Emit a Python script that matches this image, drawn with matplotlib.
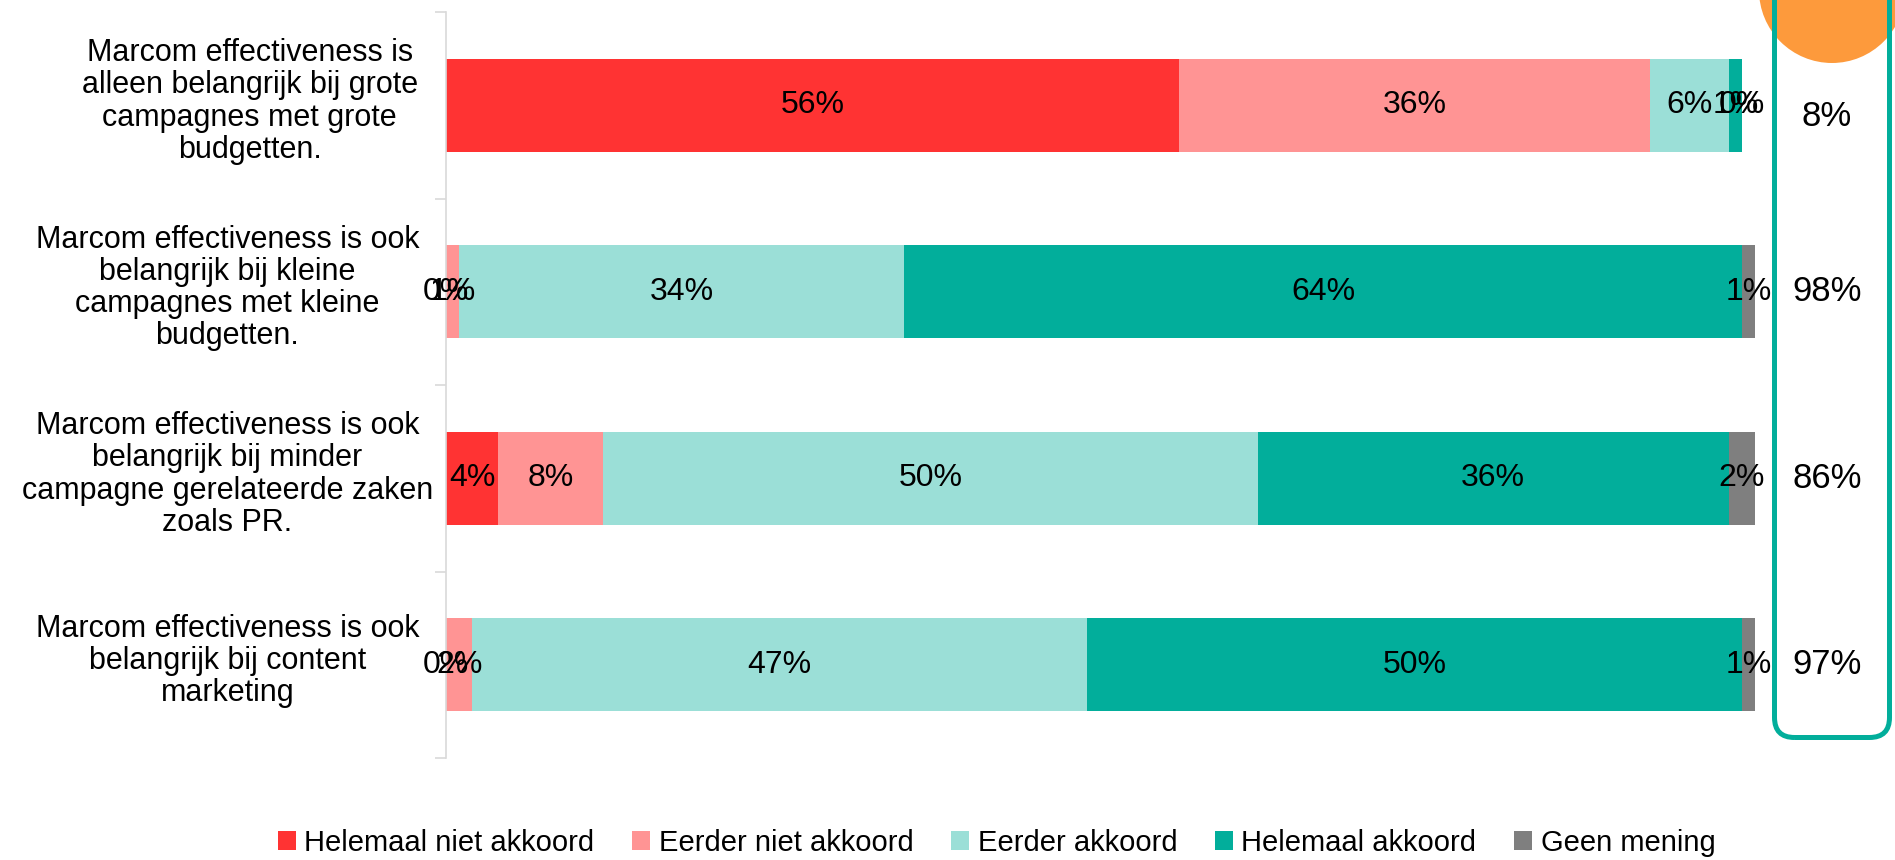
import matplotlib
matplotlib.use("Agg")
import matplotlib.pyplot as plt
from matplotlib.patches import Patch, FancyBboxPatch, Circle
from matplotlib.transforms import blended_transform_factory

plt.rcParams['font.family'] = ['Liberation Sans', 'DejaVu Sans']

statements = [
    "Marcom effectiveness is\nalleen belangrijk bij grote\ncampagnes met grote\nbudgetten.",
    "Marcom effectiveness is ook\nbelangrijk bij kleine\ncampagnes met kleine\nbudgetten.",
    "Marcom effectiveness is ook\nbelangrijk bij minder\ncampagne gerelateerde zaken\nzoals PR.",
    "Marcom effectiveness is ook\nbelangrijk bij content\nmarketing",
]
answers = ["Helemaal niet akkoord", "Eerder niet akkoord", "Eerder akkoord",
           "Helemaal akkoord", "Geen mening"]
helemaal_niet = [56, 0, 4, 0]
eerder_niet = [36, 1, 8, 2]
eerder = [6, 34, 50, 47]
helemaal = [1, 64, 36, 50]
geen_mening = [0, 1, 2, 1]
agree_total = ["8%", "98%", "86%", "97%"]

colors = ['#ff3333', '#ff9494', '#9bdfd7', '#02ae9b', '#7f7f7f']
series = [helemaal_niet, eerder_niet, eerder, helemaal, geen_mening]

fig = plt.figure(figsize=(18.95, 8.6), dpi=100)
ax = fig.add_axes([446 / 1895, 1 - 758 / 860, 1309 / 1895, 746 / 860])

ypos = list(range(len(statements)))
left = [0] * len(statements)
for vals, col in zip(series, colors):
    ax.barh(ypos, vals, left=left, height=0.5, color=col, edgecolor='none')
    for y, v, l in zip(ypos, vals, left):
        ax.text(l + v / 2, y, f"{v}%", ha='center', va='center', fontsize=23, color='black')
    left = [l + v for l, v in zip(left, vals)]

ax.set_xlim(0, 100)
ax.set_ylim(3.5, -0.5)
ax.set_xticks([])
ax.set_yticks([])
ax.set_yticks([-0.5, 0.5, 1.5, 2.5, 3.5], minor=True)
ax.tick_params(axis='y', which='minor', length=8, width=1.2, color='#d9d9d9', labelleft=False)
for s in ['top', 'right', 'bottom']:
    ax.spines[s].set_visible(False)
ax.spines['left'].set_color('#d9d9d9')
ax.spines['left'].set_linewidth(1.2)

# wrapped category labels, each block centred on its own line widths
ylab = blended_transform_factory(ax.transAxes, ax.transData)
label_x = [-0.150, -0.167, -0.167, -0.167]
for y, txt, lx in zip(ypos, statements, label_x):
    ax.text(lx, y - 0.02, txt, transform=ylab, ha='center', va='center',
            multialignment='center', fontsize=22, linespacing=1.1)

# summary box with the share that agrees
circle = Circle((18.32, 8.70), 0.73, transform=fig.dpi_scale_trans,
                facecolor='#fd9a3c', edgecolor='none', zorder=1)
fig.patches.append(circle)
box = FancyBboxPatch((17.745, 1.225), 1.15, 8.0, transform=fig.dpi_scale_trans,
                     boxstyle="round,pad=0,rounding_size=0.2",
                     facecolor='none', edgecolor='#02ae9b', linewidth=3.6, zorder=2)
fig.patches.append(box)
for y, txt in zip(ypos, agree_total):
    ax.text(105.5, y + (0.06 if y == 0 else 0), txt, ha='center', va='center',
            fontsize=25, clip_on=False)

handles = [Patch(facecolor=c, edgecolor='none') for c in colors]
fig.legend(handles, answers, loc='center', bbox_to_anchor=(0.526, 0.02), ncol=5,
           frameon=False, handlelength=0.6, handleheight=0.6,
           handletextpad=0.3, columnspacing=1.3,
           prop={'family': ['Liberation Sans', 'DejaVu Sans'], 'size': 21})

fig.savefig('out.png', dpi=100)
